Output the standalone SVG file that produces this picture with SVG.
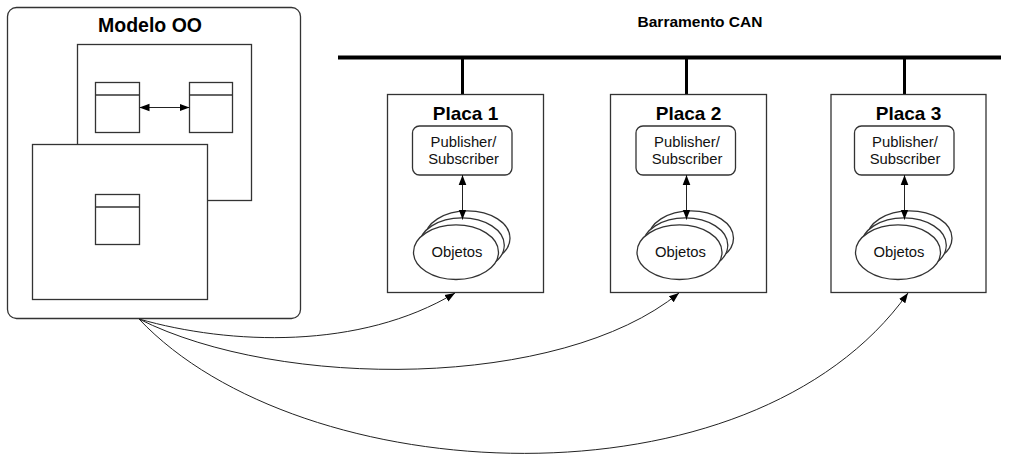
<svg xmlns="http://www.w3.org/2000/svg" width="1009" height="457" viewBox="0 0 1009 457">
  <defs>
    <marker id="arrow" viewBox="0 0 10 10" refX="10" refY="5" markerWidth="10" markerHeight="10" markerUnits="userSpaceOnUse" orient="auto-start-reverse">
      <path d="M0,1.2 L10,5 L0,8.8 z" fill="#000"/>
    </marker>
    <style>
      .box { fill: #fff; stroke: #333; stroke-width: 1.3; }
      .thin { fill: none; stroke: #222; stroke-width: 1; }
      .bus { stroke: #000; stroke-width: 4; fill: none; }
      .stem { stroke: #000; stroke-width: 3; fill: none; }
      .title { font-family: "Liberation Sans", Arial, sans-serif; font-weight: bold; fill: #000; text-anchor: middle; }
      .label { font-family: "Liberation Sans", Arial, sans-serif; font-size: 14.8px; fill: #111; text-anchor: middle; }
      .link { fill: none; stroke: #222; stroke-width: 1; }
    </style>
  </defs>
  <rect width="1009" height="457" fill="#fff"/>

  <!-- object-oriented model -->
  <g id="modelo-oo">
    <rect class="box" x="7.5" y="7.5" width="293" height="311" rx="9"/>
    <text class="title" x="150" y="32" font-size="19.5">Modelo OO</text>
    <rect class="box" x="77.5" y="44.5" width="174" height="156"/>
    <rect class="box" x="95.5" y="82.5" width="44" height="50"/>
    <line class="box" x1="95.5" y1="95" x2="139.5" y2="95"/>
    <rect class="box" x="189.5" y="82.5" width="43" height="50"/>
    <line class="box" x1="189.5" y1="95" x2="232.5" y2="95"/>
    <line class="thin" x1="139.5" y1="107.5" x2="189.5" y2="107.5" marker-start="url(#arrow)" marker-end="url(#arrow)"/>
    <rect class="box" x="32.5" y="144.5" width="175" height="155"/>
    <rect class="box" x="95.5" y="194.5" width="44" height="50"/>
    <line class="box" x1="95.5" y1="207" x2="139.5" y2="207"/>
  </g>

  <!-- CAN bus -->
  <g id="barramento-can">
    <text class="title" x="700" y="27" font-size="15.5">Barramento CAN</text>
    <line class="bus" x1="338" y1="57.5" x2="1001" y2="57.5"/>
  </g>

  <g id="placa-1" transform="translate(387.5,94.5)">
    <line class="stem" x1="75" y1="-37" x2="75" y2="0"/>
    <rect class="box" x="0" y="0" width="156" height="198"/>
    <text class="title" x="78" y="25.5" font-size="19">Placa 1</text>
    <rect class="box" x="25" y="31.5" width="99.5" height="49" rx="7"/>
    <text class="label" x="76" y="52">Publisher/</text>
    <text class="label" x="76" y="69">Subscriber</text>
    <ellipse class="box" cx="80" cy="143.7" rx="42.5" ry="27.3"/>
    <ellipse class="box" cx="74.3" cy="150.7" rx="42.5" ry="27.3"/>
    <ellipse class="box" cx="68.5" cy="157.7" rx="42.5" ry="27.3"/>
    <text class="label" x="69.5" y="162.5">Objetos</text>
    <line class="thin" x1="75" y1="80.5" x2="75" y2="125" marker-start="url(#arrow)" marker-end="url(#arrow)"/>
  </g>

  <g id="placa-2" transform="translate(610.5,94.5)">
    <line class="stem" x1="76" y1="-37" x2="76" y2="0"/>
    <rect class="box" x="0" y="0" width="156" height="198"/>
    <text class="title" x="78" y="25.5" font-size="19">Placa 2</text>
    <rect class="box" x="25.5" y="31.5" width="99.5" height="49" rx="7"/>
    <text class="label" x="76.5" y="52">Publisher/</text>
    <text class="label" x="76.5" y="69">Subscriber</text>
    <ellipse class="box" cx="80.5" cy="143.7" rx="42.5" ry="27.3"/>
    <ellipse class="box" cx="74.8" cy="150.7" rx="42.5" ry="27.3"/>
    <ellipse class="box" cx="69" cy="157.7" rx="42.5" ry="27.3"/>
    <text class="label" x="70" y="162.5">Objetos</text>
    <line class="thin" x1="76" y1="80.5" x2="76" y2="125" marker-start="url(#arrow)" marker-end="url(#arrow)"/>
  </g>

  <g id="placa-3" transform="translate(831,94.5)">
    <line class="stem" x1="73.5" y1="-37" x2="73.5" y2="0"/>
    <rect class="box" x="0" y="0" width="155" height="198"/>
    <text class="title" x="77.5" y="25.5" font-size="19">Placa 3</text>
    <rect class="box" x="23.5" y="31.5" width="99.5" height="49" rx="7"/>
    <text class="label" x="74" y="52">Publisher/</text>
    <text class="label" x="74" y="69">Subscriber</text>
    <ellipse class="box" cx="78.5" cy="143.7" rx="42.5" ry="27.3"/>
    <ellipse class="box" cx="72.8" cy="150.7" rx="42.5" ry="27.3"/>
    <ellipse class="box" cx="67" cy="157.7" rx="42.5" ry="27.3"/>
    <text class="label" x="68" y="162.5">Objetos</text>
    <line class="thin" x1="73.5" y1="80.5" x2="73.5" y2="125" marker-start="url(#arrow)" marker-end="url(#arrow)"/>
  </g>

  <!-- deployment links from the model to each board -->
  <g id="connectors">
    <path class="link" d="M139,319 C230,345 360,350 455,293" marker-end="url(#arrow)"/>
    <path class="link" d="M139,319 C280,390 560,390 679,293" marker-end="url(#arrow)"/>
    <path class="link" d="M139,319 C300,490 750,515 908,293" marker-end="url(#arrow)"/>
  </g>
</svg>
